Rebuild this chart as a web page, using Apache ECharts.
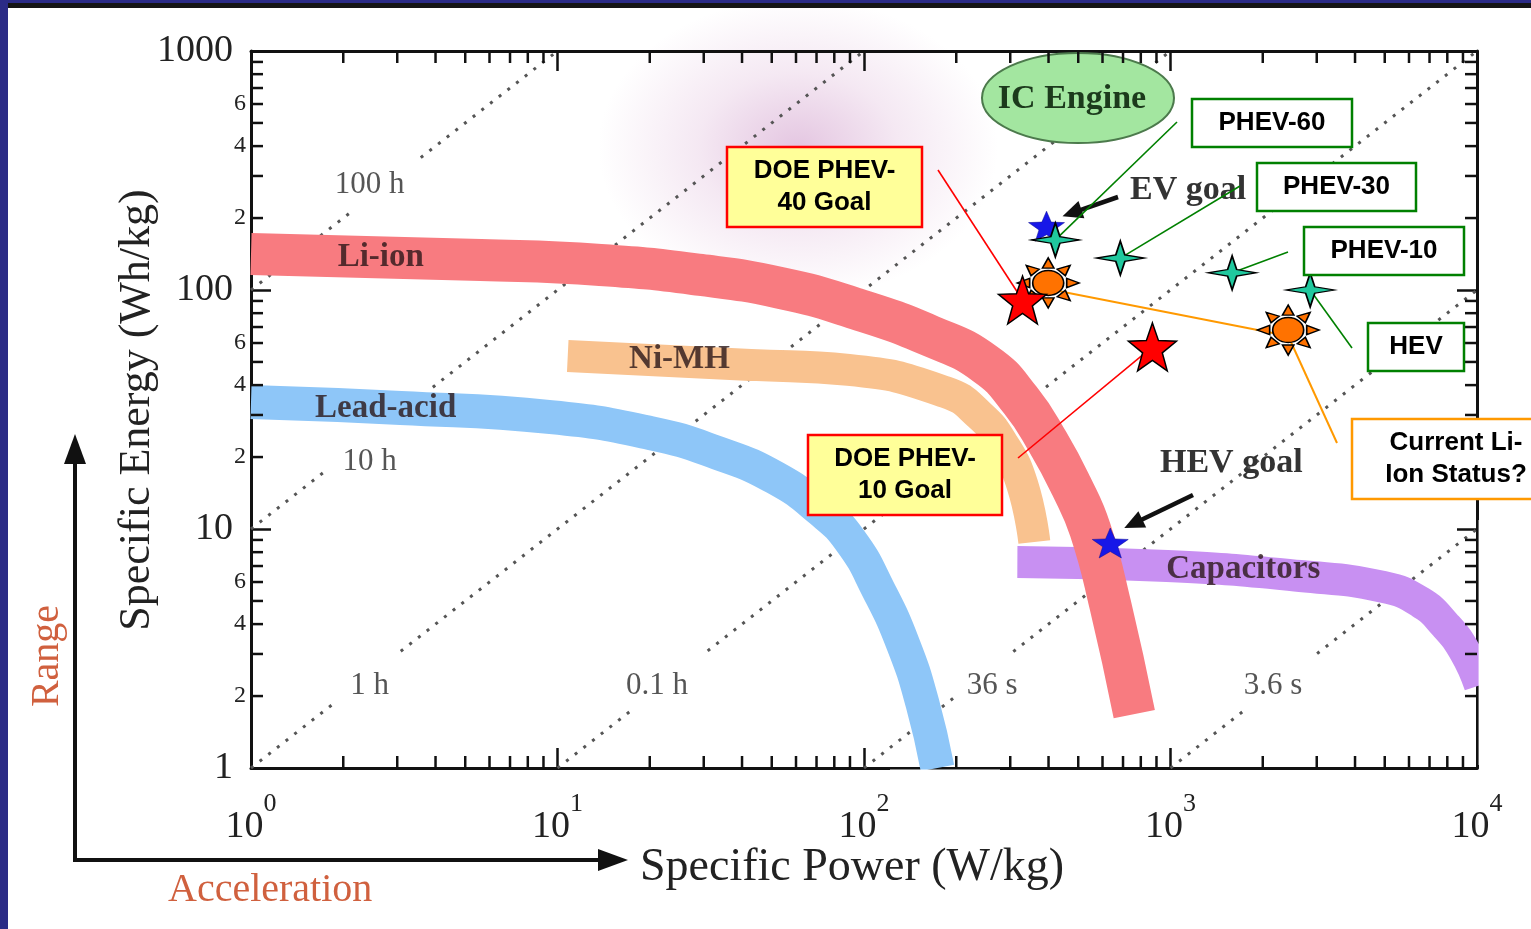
<!DOCTYPE html>
<html>
<head>
<meta charset="utf-8">
<script src="https://cdn.jsdelivr.net/npm/echarts@6/dist/echarts.min.js"></script>
<style>
html,body{margin:0;padding:0;width:1531px;height:929px;overflow:hidden;background:#2b2b86;}
#topline{position:absolute;left:8px;top:3px;width:1523px;height:5px;background:#151515;}
#paper{position:absolute;left:8px;top:8px;width:1523px;height:921px;
  background:radial-gradient(ellipse 200px 150px at 790px 140px, rgba(210,160,205,0.6) 0%, rgba(225,190,220,0.35) 50%, rgba(255,255,255,0) 100%), #ffffff;}
#chart{position:absolute;left:0;top:0;width:1531px;height:929px;}
</style>
</head>
<body>
<div id="topline"></div>
<div id="paper"></div>
<div id="chart"></div>
<script>
// ---------------- data ----------------
const xDecades = [1, 10, 100, 1000];
const yDecades = [1, 10, 100];
const minorMultipliers = [2, 3, 4, 5, 6, 7, 8, 9];
const yMinorLabelMultipliers = [2, 4, 6];

// band centre lines: [specific power W/kg, specific energy Wh/kg]
const liIonBand = [[1,141.5],[5.62,133.5],[13.8,127.2],[29.3,115.6],[53.4,102],[90.4,84.9],[164.8,64.2],[248.9,49.0],[323.8,34.6],[399.5,22.9],[474.8,15.1],[547.4,9.9],[636.2,4.81],[761.8,1.68]];
const niMHBand = [[10.8,52.9],[42.7,48.6],[89.0,46.3],[184.4,37.4],[237.9,30.0],[285,22.5],[328.6,15.3],[359.5,8.82]];
const leadAcidBand = [[1,34.0],[3.08,32.1],[9.51,29.4],[20.1,25.2],[33.3,20.8],[51.4,16.35],[72.1,12.0],[90.4,8.91],[111.5,5.56],[134.5,3.27],[155,1.87],[173.6,1.0]];
const capacitorBand = [[316.5,7.28],[976,7.0],[2649,6.36],[4938,5.72],[6521,4.95],[7865,3.97],[9140,3.06],[10228,2.22]];
const bandNames = ['Li-ion', 'Ni-MH', 'Lead-acid', 'Capacitors'];
const bandLabelPos = [[2.65,137.4],[25.0,51.4],[2.75,31.8],[1727,6.8]];

// constant discharge-time lines (two visible pieces each, gap at the label)
const durationLabels = ['100 h', '10 h', '1 h', '0.1 h', '36 s', '3.6 s'];
const durationSegments = [
  [[[1,100],[2.17,217]], [[3.58,358],[10,1000]]],
  [[[1,10],[1.73,17.3]], [[3.92,39.2],[100,1000]]],
  [[[1,1],[1.865,1.865]], [[3.08,3.08],[1000,1000]]],
  [[[10,1],[17.7,1.77]], [[30.9,3.09],[10000,1000]]],
  [[[100,1],[198.7,1.99]], [[307,3.07],[10000,100]]],
  [[[1000,1],[1778,1.78]], [[3008,3.01],[10000,10]]]
];
const durationLabelPos = [[2.44,275],[2.44,19.1],[2.44,2.2],[21.1,2.2],[262,2.2],[2162,2.2]];

// markers
const blueGoalStars = [[394,185],[636,8.74]];          // EV goal, HEV goal
const phevTargets = [[421,162],[686,136],[1589,118],[2856,100]]; // PHEV-60, PHEV-30, PHEV-10, HEV
const liIonStatus = [[399,107],[2421,68]];
const doeGoals = [[329,90.8],[873,57.8]];               // PHEV-40, PHEV-10

// ---------------- styling helpers ----------------
const FS = '"Liberation Serif","Times New Roman",serif';
const FA = '"Liberation Sans",Arial,sans-serif';

function starPath(n, ro, ri) {
  let d = '';
  for (let i = 0; i < 2 * n; i++) {
    const r = i % 2 ? ri : ro;
    const a = -Math.PI / 2 + i * Math.PI / n;
    d += (i ? 'L' : 'M') + (r * Math.cos(a)).toFixed(2) + ',' + (r * Math.sin(a)).toFixed(2) + ' ';
  }
  return 'path://' + d + 'Z';
}
function sunPath() {
  let d = 'M14,0 A14,14 0 1 1 -14,0 A14,14 0 1 1 14,0 Z';
  for (let k = 0; k < 8; k++) {
    const a = k * Math.PI / 4, b = 17.5, t = 28, hw = 0.3;
    const p = (r, ang) => (r * Math.cos(ang)).toFixed(2) + ',' + (r * Math.sin(ang)).toFixed(2);
    d += ' M' + p(b, a - hw) + ' L' + p(t, a) + ' L' + p(b, a + hw) + ' Z';
  }
  return 'path://' + d;
}

const xMinor = [];
xDecades.forEach(d => minorMultipliers.forEach(m => xMinor.push([d * m, 1])));
const yMinor = [];
yDecades.forEach(d => minorMultipliers.forEach(m => yMinor.push([1, d * m, m])));

function bandSeries(name, data, color, width) {
  return {
    name, type: 'line', data, smooth: 0.5, symbol: 'none', showSymbol: false, silent: true, z: 2,
    lineStyle: { color, width, cap: 'butt', join: 'round' }
  };
}

const axisCommon = {
  type: 'log', logBase: 10,
  axisLine: { show: true, onZero: false, lineStyle: { color: '#111', width: 3 } },
  axisTick: { show: true, inside: true, length: 20, lineStyle: { color: '#111', width: 2.5 } },
  splitLine: { show: false }, minorTick: { show: false }, minorSplitLine: { show: false }
};

const durationSeries = [];
durationSegments.forEach(pair => pair.forEach(s => durationSeries.push({
  type: 'line', data: s, symbol: 'none', showSymbol: false, silent: true, z: 1,
  lineStyle: { color: '#555', width: 3, type: [3, 8] }
})));

const option = {
  animation: false,
  grid: { left: 251, top: 51, width: 1226, height: 717 },
  xAxis: [
    Object.assign({}, axisCommon, {
      min: 1, max: 10000, position: 'bottom',
      axisLabel: {
        margin: 23,
        formatter: v => '{b|10}{s|' + Math.round(Math.log10(v)) + '}',
        rich: {
          b: { fontFamily: FS, fontSize: 38, color: '#222' },
          s: { fontFamily: FS, fontSize: 26, color: '#222', padding: [0, 0, 46, 0] }
        }
      }
    }),
    Object.assign({}, axisCommon, { min: 1, max: 10000, position: 'top', axisLabel: { show: false } })
  ],
  yAxis: [
    Object.assign({}, axisCommon, {
      min: 1, max: 1000, position: 'left',
      axisLabel: { margin: 18, fontFamily: FS, fontSize: 38, color: '#222', formatter: v => String(Math.round(v)) }
    }),
    Object.assign({}, axisCommon, { min: 1, max: 1000, position: 'right', axisLabel: { show: false } })
  ],
  series: [
    ...durationSeries,
    {
      type: 'scatter', z: 1.5, silent: true, symbol: 'circle', symbolSize: 1,
      itemStyle: { color: 'rgba(0,0,0,0)' },
      data: durationLabelPos.map((p, i) => ({ value: p, name: durationLabels[i] })),
      label: { show: true, position: 'inside', formatter: '{b}', fontFamily: FS, fontSize: 31, color: '#2a2a2a' }
    },
    bandSeries('Lead-acid', leadAcidBand, '#8ec6f8', 34),
    bandSeries('Ni-MH', niMHBand, '#f9c28f', 32),
    bandSeries('Capacitors', capacitorBand, '#c890f2', 32),
    bandSeries('Li-ion', liIonBand, '#f87b80', 42),
    {
      type: 'scatter', z: 3, silent: true, symbol: 'circle', symbolSize: 1,
      itemStyle: { color: 'rgba(0,0,0,0)' },
      data: bandLabelPos.map((p, i) => ({ value: p, name: bandNames[i] })),
      label: { show: true, position: 'inside', formatter: '{b}', fontFamily: FS, fontWeight: 'bold',
        fontSize: 33, color: '#2a1618' }
    },
    {
      type: 'custom', coordinateSystem: 'cartesian2d', clip: false, silent: true, z: 4,
      data: xMinor,
      renderItem: (params, api) => {
        const v = api.value(0);
        const b = api.coord([v, 1]), t = api.coord([v, 1000]);
        const st = { stroke: '#111', lineWidth: 2.5 };
        return { type: 'group', children: [
          { type: 'line', shape: { x1: b[0], y1: b[1], x2: b[0], y2: b[1] - 12 }, style: st },
          { type: 'line', shape: { x1: t[0], y1: t[1], x2: t[0], y2: t[1] + 12 }, style: st }
        ] };
      }
    },
    {
      type: 'custom', coordinateSystem: 'cartesian2d', clip: false, silent: true, z: 4,
      data: yMinor,
      renderItem: (params, api) => {
        const v = api.value(1), m = api.value(2);
        const l = api.coord([1, v]), r = api.coord([10000, v]);
        const st = { stroke: '#111', lineWidth: 2.5 };
        const ch = [
          { type: 'line', shape: { x1: l[0], y1: l[1], x2: l[0] + 12, y2: l[1] }, style: st },
          { type: 'line', shape: { x1: r[0], y1: r[1], x2: r[0] - 12, y2: r[1] }, style: st }
        ];
        if (yMinorLabelMultipliers.indexOf(m) >= 0) {
          ch.push({ type: 'text', x: l[0] - 5, y: l[1], style: { text: String(m), fontFamily: FS, fontSize: 24,
            fill: '#222', align: 'right', verticalAlign: 'middle' } });
        }
        return { type: 'group', children: ch };
      }
    },
    {
      type: 'scatter', z: 5, silent: true, data: blueGoalStars,
      symbol: starPath(5, 10, 4.2), symbolSize: [36, 30],
      itemStyle: { color: '#1717e8', borderColor: '#0a0a90', borderWidth: 0.5, opacity: 1 }
    },
    {
      type: 'scatter', z: 5, silent: true, data: phevTargets,
      symbol: 'path://M0,-10 L1.9,-1.9 L10,0 L1.9,1.9 L0,10 L-1.9,1.9 L-10,0 L-1.9,-1.9 Z', symbolSize: [48, 34],
      itemStyle: { color: '#20c89e', borderColor: '#000', borderWidth: 1.5, opacity: 1 }
    },
    {
      type: 'scatter', z: 5, silent: true, data: liIonStatus,
      symbol: sunPath(), symbolSize: [62, 50],
      itemStyle: { color: '#ff7200', borderColor: '#000', borderWidth: 1.5, opacity: 1 }
    },
    {
      type: 'scatter', z: 5, silent: true, data: doeGoals,
      symbol: starPath(5, 10, 4.1), symbolSize: [48, 48],
      itemStyle: { color: '#ff0000', borderColor: '#000', borderWidth: 1.5, opacity: 1 }
    }
  ]
};

const chart = echarts.init(document.getElementById('chart'), null, { renderer: 'canvas' });
chart.setOption(option);

const px = d => chart.convertToPixel({ gridIndex: 0 }, d);

function arrow(x1, y1, x2, y2, w, hl, hw, color, z) {
  const a = Math.atan2(y2 - y1, x2 - x1), c = Math.cos(a), s = Math.sin(a);
  const bx = x2 - hl * c, by = y2 - hl * s;
  return [
    { type: 'line', z, shape: { x1, y1, x2: bx + 2 * c, y2: by + 2 * s }, style: { stroke: color, lineWidth: w } },
    { type: 'polygon', z, shape: { points: [[x2, y2], [bx - hw * s, by + hw * c], [bx + hw * s, by - hw * c]] }, style: { fill: color } }
  ];
}
function seg(p, q, color, w) {
  return { type: 'line', z: 4, shape: { x1: p[0], y1: p[1], x2: q[0], y2: q[1] }, style: { stroke: color, lineWidth: w } };
}
function box(b) {
  const els = [{ type: 'rect', z: 6, shape: { x: b.x, y: b.y, width: b.w, height: b.h },
    style: { fill: b.fill, stroke: b.stroke, lineWidth: 2.5 } }];
  const cx = b.tx != null ? b.tx : b.x + b.w / 2;
  const n = b.lines.length, lh = 32;
  b.lines.forEach((t, i) => {
    els.push({ type: 'text', z: 7, x: cx, y: b.y + b.h / 2 + (i - (n - 1) / 2) * lh,
      style: { text: t, fontFamily: FA, fontWeight: 'bold', fontSize: 26, fill: '#000', align: 'center', verticalAlign: 'middle' } });
  });
  return els;
}

const boxes = [
  { lines: ['DOE PHEV-', '40 Goal'], x: 727, y: 147, w: 195, h: 80, fill: '#ffff99', stroke: '#ff0000' },
  { lines: ['DOE PHEV-', '10 Goal'], x: 808, y: 435, w: 194, h: 80, fill: '#ffff99', stroke: '#ff0000' },
  { lines: ['PHEV-60'], x: 1192, y: 99, w: 160, h: 48, fill: '#fff', stroke: '#008000' },
  { lines: ['PHEV-30'], x: 1257, y: 163, w: 159, h: 48, fill: '#fff', stroke: '#008000' },
  { lines: ['PHEV-10'], x: 1304, y: 227, w: 160, h: 48, fill: '#fff', stroke: '#008000' },
  { lines: ['HEV'], x: 1368, y: 323, w: 96, h: 48, fill: '#fff', stroke: '#008000' },
  { lines: ['Current Li-', 'Ion Status?'], x: 1352, y: 419, w: 195, h: 80, fill: '#fff', stroke: '#ff9900', tx: 1456 }
];

const dg = doeGoals.map(px), pt = phevTargets.map(px), ss = liIonStatus.map(px), bs = blueGoalStars.map(px);
const corner = px([10000, 1]);

let els = [
  // masks for band overflow outside plot frame
  { type: 'rect', z: 2.5, silent: true, shape: { x: corner[0] + 1.6, y: 520, width: 60, height: 245 }, style: { fill: '#fff' } },
  { type: 'rect', z: 2.5, silent: true, shape: { x: 890, y: corner[1] + 1.6, width: 110, height: 17 }, style: { fill: '#fff' } },
  { type: 'text', x: 137, y: 410, rotation: Math.PI / 2,
    style: { text: 'Specific Energy (Wh/kg)', fontFamily: FS, fontSize: 44, fill: '#222', align: 'center', verticalAlign: 'middle' } },
  { type: 'text', x: 640, y: 868,
    style: { text: 'Specific Power (W/kg)', fontFamily: FS, fontSize: 46, fill: '#222', align: 'left', verticalAlign: 'middle' } },
  { type: 'text', x: 47, y: 656, rotation: Math.PI / 2,
    style: { text: 'Range', fontFamily: FS, fontSize: 40, fill: '#d0603e', align: 'center', verticalAlign: 'middle' } },
  { type: 'text', x: 168, y: 890,
    style: { text: 'Acceleration', fontFamily: FS, fontSize: 40, fill: '#d0603e', align: 'left', verticalAlign: 'middle' } },
  ...arrow(75, 862, 75, 434, 4, 30, 11, '#111', 3),
  ...arrow(73, 860, 628, 860, 4, 30, 11, '#111', 3),
  { type: 'ellipse', z: 3, shape: { cx: 1078, cy: 98, rx: 96, ry: 45 },
    style: { fill: '#a3e6a0', stroke: '#4c7a4c', lineWidth: 2 } },
  { type: 'text', z: 3, x: 1072, y: 99,
    style: { text: 'IC Engine', fontFamily: FS, fontWeight: 'bold', fontSize: 34, fill: '#1c3a1c', align: 'center', verticalAlign: 'middle' } },
  { type: 'text', z: 3, x: 1130, y: 190,
    style: { text: 'EV goal', fontFamily: FS, fontWeight: 'bold', fontSize: 34, fill: '#333', align: 'left', verticalAlign: 'middle' } },
  { type: 'text', z: 3, x: 1160, y: 463,
    style: { text: 'HEV goal', fontFamily: FS, fontWeight: 'bold', fontSize: 34, fill: '#333', align: 'left', verticalAlign: 'middle' } },
  ...arrow(1118, 197, bs[0][0] + 16, bs[0][1] - 10, 4.5, 20, 9, '#111', 4),
  ...arrow(1193, 495, bs[1][0] + 14, bs[1][1] - 15, 4.5, 20, 9, '#111', 4),
  seg([938, 170], dg[0], '#ff0000', 1.6),
  seg([1018, 458], dg[1], '#ff0000', 1.6),
  seg([1177, 122], pt[0], '#008000', 1.6),
  seg([1240, 186], pt[1], '#008000', 1.6),
  seg([1288, 252], pt[2], '#008000', 1.6),
  seg([1352, 348], pt[3], '#008000', 1.6),
  seg([ss[0][0], ss[0][1] + 6], [ss[1][0], ss[1][1] + 6], '#ff9900', 2),
  seg([ss[1][0], ss[1][1] + 6], [1337, 443], '#ff9900', 2)
];
boxes.forEach(b => { els = els.concat(box(b)); });

chart.setOption({ graphic: { elements: els } });
</script>
</body>
</html>
